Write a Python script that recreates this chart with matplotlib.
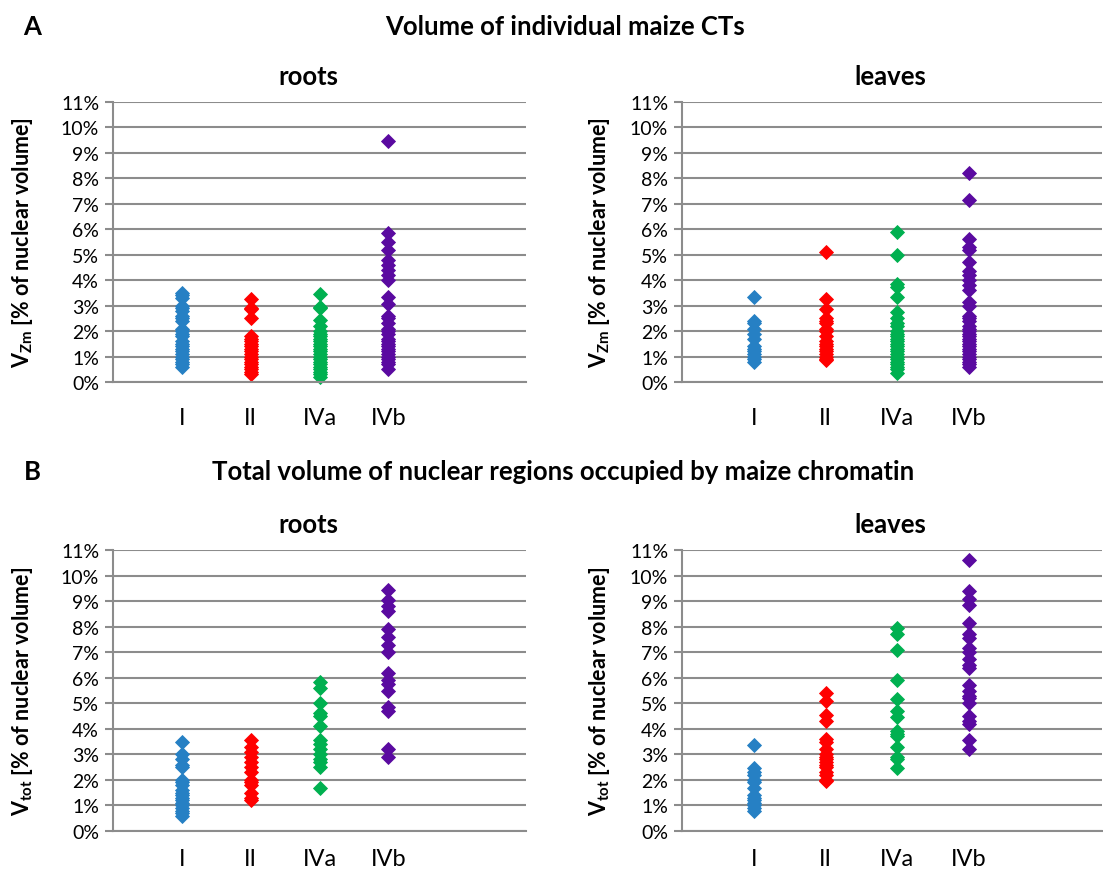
import numpy as np
import matplotlib.pyplot as plt
from matplotlib.ticker import FuncFormatter

plt.rcParams['font.family'] = ['Lato', 'DejaVu Sans']
plt.rcParams['mathtext.fontset'] = 'custom'
plt.rcParams['mathtext.rm'] = 'Lato'
plt.rcParams['mathtext.bf'] = 'Lato:bold'

groups = ['I', 'II', 'IVa', 'IVb']
colors = ['#2680c4', '#ff0000', '#00b050', '#5a0aa0']

# A - roots (volume of individual CTs, %)
a_roots_I = [3.5, 3.4, 3.3, 3.0, 2.9, 2.8, 2.6, 2.5, 2.4, 2.1, 2.0, 1.9, 1.8, 1.6, 1.5,
             1.4, 1.3, 1.2, 1.1, 1.0, 0.9, 0.8, 0.7, 0.6]
a_roots_II = [3.25, 2.9, 2.85, 2.5, 1.8, 1.7, 1.6, 1.5, 1.4, 1.3, 1.2, 1.1, 1.0, 0.9, 0.8,
              0.7, 0.6, 0.5, 0.4, 0.3]
a_roots_IVa = [3.45, 2.95, 2.9, 2.45, 2.2, 2.0, 1.9, 1.8, 1.7, 1.6, 1.5, 1.4, 1.3, 1.2, 1.1,
               1.0, 0.9, 0.8, 0.7, 0.6, 0.5, 0.4, 0.3, 0.2]
a_roots_IVb = [9.45, 5.85, 5.5, 5.2, 4.8, 4.6, 4.4, 4.2, 4.0, 3.35, 3.05, 2.6, 2.5, 2.3, 2.1,
               2.0, 1.9, 1.7, 1.6, 1.5, 1.4, 1.3, 1.2, 1.1, 1.0, 0.9, 0.8, 0.7, 0.5]

# A - leaves
a_leaves_I = [3.35, 2.4, 2.3, 2.1, 1.9, 1.7, 1.4, 1.3, 1.2, 1.1, 1.0, 0.9, 0.8]
a_leaves_II = [5.1, 3.25, 2.85, 2.5, 2.4, 2.3, 2.1, 2.0, 1.8, 1.6, 1.5, 1.4, 1.3, 1.2, 1.1,
               1.0, 0.9, 0.85]
a_leaves_IVa = [5.9, 5.0, 3.85, 3.75, 3.35, 2.75, 2.5, 2.3, 2.2, 2.0, 1.9, 1.8, 1.7, 1.6,
                1.5, 1.4, 1.3, 1.2, 1.1, 1.0, 0.9, 0.8, 0.7, 0.6, 0.5, 0.35]
a_leaves_IVb = [8.2, 7.15, 5.6, 5.3, 5.2, 4.7, 4.35, 4.2, 4.0, 3.8, 3.6, 3.15, 3.0, 2.6,
                2.5, 2.4, 2.2, 2.1, 2.0, 1.9, 1.8, 1.7, 1.6, 1.5, 1.4, 1.3, 1.2, 1.1, 1.0,
                0.9, 0.8, 0.7, 0.6]

# B - roots (total volume, %)
b_roots_I = [3.5, 3.0, 2.8, 2.6, 2.5, 2.0, 1.9, 1.8, 1.6, 1.5, 1.4, 1.3, 1.2, 1.1, 1.0,
             0.9, 0.8, 0.7, 0.6]
b_roots_II = [3.55, 3.3, 3.1, 2.9, 2.7, 2.5, 2.3, 2.0, 1.9, 1.8, 1.5, 1.3, 1.2]
b_roots_IVa = [5.85, 5.6, 5.0, 4.6, 4.5, 4.1, 3.55, 3.4, 3.2, 3.0, 2.8, 2.7, 2.5, 1.7]
b_roots_IVb = [9.45, 9.05, 8.8, 8.6, 7.9, 7.6, 7.3, 7.0, 6.2, 5.9, 5.75, 5.5, 4.85, 4.7,
               3.2, 2.9]

# B - leaves
b_leaves_I = [3.35, 2.45, 2.3, 2.2, 2.0, 1.9, 1.7, 1.4, 1.3, 1.2, 1.1, 1.0, 0.9, 0.8]
b_leaves_II = [5.4, 5.1, 4.55, 4.3, 3.6, 3.5, 3.2, 3.0, 2.9, 2.8, 2.7, 2.6, 2.5, 2.3, 2.2,
               2.0, 1.95]
b_leaves_IVa = [7.95, 7.7, 7.1, 5.9, 5.15, 4.7, 4.45, 3.9, 3.8, 3.7, 3.3, 2.9, 2.8, 2.45]
b_leaves_IVb = [10.6, 9.4, 9.1, 8.85, 8.15, 7.7, 7.55, 7.15, 7.0, 6.75, 6.5, 6.4, 5.7, 5.5,
                5.3, 5.2, 5.0, 4.5, 4.3, 4.2, 3.55, 3.2]

panels = [
    ([a_roots_I, a_roots_II, a_roots_IVa, a_roots_IVb], 'roots', r'$\mathbf{V}_{\mathbf{Zm}}$ [% of nuclear volume]'),
    ([a_leaves_I, a_leaves_II, a_leaves_IVa, a_leaves_IVb], 'leaves', r'$\mathbf{V}_{\mathbf{Zm}}$ [% of nuclear volume]'),
    ([b_roots_I, b_roots_II, b_roots_IVa, b_roots_IVb], 'roots', r'$\mathbf{V}_{\mathbf{tot}}$ [% of nuclear volume]'),
    ([b_leaves_I, b_leaves_II, b_leaves_IVa, b_leaves_IVb], 'leaves', r'$\mathbf{V}_{\mathbf{tot}}$ [% of nuclear volume]'),
]

W, H = 1103, 870
fig = plt.figure(figsize=(W / 100, H / 100), dpi=100)

# axes boxes in pixels: left, top(11%), right, bottom(0%)
boxes = [(113, 103, 526, 383), (682, 103, 1102, 383),
         (113, 551, 526, 832), (682, 551, 1102, 832)]
xmax = [6.0, 5.85, 6.0, 5.85]
xpad = [18, 18, 12, 12]
title_x = [308, 890, 308, 890]
label_x = [23, 600, 23, 600]
grid_c = '#8c8c8c'

for k, (series, name, ylab) in enumerate(panels):
    l, t, r, b = boxes[k]
    ax = fig.add_axes([l / W, 1 - b / H, (r - l) / W, (b - t) / H])
    for i, vals in enumerate(series):
        ax.plot(np.full(len(vals), i + 1), vals, linestyle='none', marker='D',
                markersize=7, color=colors[i], markeredgewidth=0.6, clip_on=False)
    ax.set_xlim(0, xmax[k])
    ax.set_ylim(0, 11)
    ax.set_yticks(np.arange(0, 12, 1))
    ax.yaxis.set_major_formatter(FuncFormatter(lambda v, p: '%d%%' % v))
    ax.set_xticks([1, 2, 3, 4])
    ax.set_xticklabels(groups, fontsize=17)
    ax.tick_params(axis='x', length=0, pad=xpad[k])
    ax.tick_params(axis='y', length=6, width=1.5, color=grid_c, labelsize=14, pad=4)
    ax.grid(axis='y', color=grid_c, linewidth=1.5)
    ax.set_axisbelow(True)
    for s in ['top', 'right']:
        ax.spines[s].set_visible(False)
    ax.spines['left'].set_color(grid_c)
    ax.spines['left'].set_linewidth(1.5)
    ax.spines['bottom'].set_color(grid_c)
    ax.spines['bottom'].set_linewidth(1.5)
    fig.text(title_x[k] / W, 1 - (t - 26) / H, name, fontsize=18.5, fontweight='bold',
             ha='center', va='center')
    fig.text(label_x[k] / W, 1 - (t + b) / 2 / H, ylab, fontsize=15.5, fontweight='bold',
             rotation=90, ha='center', va='center')

fig.text(32 / W, 1 - 27 / H, 'A', fontsize=18.5, fontweight='bold', ha='center', va='center')
fig.text(565 / W, 1 - 27 / H, 'Volume of individual maize CTs', fontsize=18.5,
         fontweight='bold', ha='center', va='center')
fig.text(32 / W, 1 - 472 / H, 'B', fontsize=18.5, fontweight='bold', ha='center', va='center')
fig.text(563 / W, 1 - 472 / H, 'Total volume of nuclear regions occupied by maize chromatin',
         fontsize=18.5, fontweight='bold', ha='center', va='center')

plt.savefig('out.png', dpi=100)
